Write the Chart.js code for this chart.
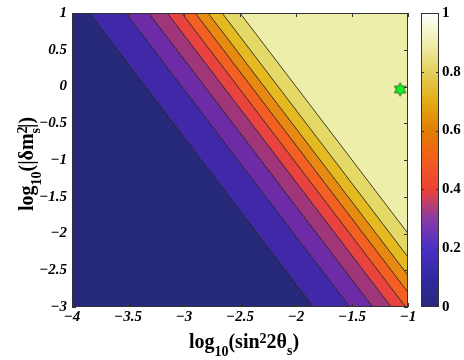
<!DOCTYPE html>
<html>
<head>
<meta charset="utf-8">
<script src="https://cdn.jsdelivr.net/npm/chart.js@4.4.1/dist/chart.umd.min.js"></script>
<style>
  html, body { margin: 0; padding: 0; background: #fff; }
</style>
</head>
<body>
<canvas id="contourChart" width="464" height="360"></canvas>
<script>
// contour levels and where each one sits: 2*log10(sin^2 2theta) + log10(|dm^2|) = offset
const levels = [0.1, 0.2, 0.3, 0.4, 0.5, 0.6, 0.7, 0.8, 0.9];
const contourOffsets = [-6.69, -6.04, -5.63, -5.30, -5.04, -4.80, -4.57, -4.32, -4.00];
const contourSlope = -2;
const bandColors = ['#27297a', '#4128a8', '#6e2ba6', '#a0357a', '#e8433f', '#f46022',
                    '#e88a12', '#e5b920', '#e4d866', '#eeeeab'];
const xRange = [-4, -1];
const yRange = [-3, 1];
const bestFit = [{ x: -1.07, y: -0.04 }];
const cbTicks = [0, 0.2, 0.4, 0.6, 0.8, 1];
const cbStops = [[0, '#26287a'], [0.1, '#3229a2'], [0.2, '#4a30c6'], [0.3, '#8a3aa6'],
                 [0.4, '#ec4236'], [0.5, '#f25d1e'], [0.6, '#e07e02'], [0.7, '#e3ad16'],
                 [0.8, '#e2cf5c'], [0.9, '#efefb0'], [1, '#ffffff']];

const serif = '"Liberation Serif", "Times New Roman", serif';

const contourLine = c => xRange.map(x => ({ x, y: c + contourSlope * x }));

const datasets = contourOffsets.map((c, i) => ({
    label: 'P = ' + levels[i],
    data: contourLine(c),
    borderColor: '#111',
    borderWidth: 0.8,
    backgroundColor: bandColors[i],
    fill: i === 0 ? 'start' : '-1',
    pointRadius: 0,
}));
datasets.push({
    label: 'top band',
    data: contourLine(contourOffsets[contourOffsets.length - 1]),
    borderWidth: 0,
    backgroundColor: bandColors[bandColors.length - 1],
    fill: 'end',
    pointRadius: 0,
});

// six pointed star for the best fit point
const starImg = document.createElement('canvas');
starImg.width = 16; starImg.height = 16;
(() => {
    const s = starImg.getContext('2d');
    const R = 6.6, r = R / Math.sqrt(3);
    s.beginPath();
    for (let k = 0; k < 12; k++) {
        const ang = -Math.PI / 2 + k * Math.PI / 6;
        const rad = k % 2 === 0 ? R : r;
        s.lineTo(8 + rad * Math.cos(ang), 8 + rad * Math.sin(ang));
    }
    s.closePath();
    s.fillStyle = '#11ee22';
    s.fill();
    s.strokeStyle = '#1d4d1d';
    s.lineWidth = 0.8;
    s.stroke();
})();

datasets.push({
    label: 'best fit',
    data: bestFit,
    showLine: false,
    fill: false,
    pointStyle: starImg,
    pointRadius: 8,
    order: -1,
});

const fmt = v => String(Math.round(v * 10) / 10).replace('-', '\u2212');

function drawRich(ctx, parts, cx, baseY) {
    let total = 0;
    parts.forEach(p => {
        ctx.font = 'bold ' + p[1] + 'px ' + serif;
        p.w = p[3] ? 0 : ctx.measureText(p[0]).width;
        total += p.w;
    });
    let x = cx - total / 2;
    ctx.textAlign = 'left';
    ctx.textBaseline = 'alphabetic';
    parts.forEach(p => {
        ctx.font = 'bold ' + p[1] + 'px ' + serif;
        ctx.fillText(p[0], x, baseY + p[2]);
        x += p.w;
    });
}

// fixed box sizes so the plot area lands where the original one is
const fixSize = (w, h) => s => {
    if (w) s.width = w;
    if (h) s.height = h;
    s.paddingTop = 0; s.paddingBottom = 0;
    s.paddingLeft = 0; s.paddingRight = 0;
};

const frame = {
    id: 'frame',
    afterDatasetsDraw(chart) {
        const { ctx, chartArea: a, scales } = chart;
        ctx.save();
        ctx.strokeStyle = '#333';
        ctx.lineWidth = 1;
        ctx.beginPath();
        scales.x.ticks.forEach(t => {
            const px = Math.round(scales.x.getPixelForValue(t.value)) + 0.5;
            ctx.moveTo(px, a.bottom); ctx.lineTo(px, a.bottom - 4);
            ctx.moveTo(px, a.top); ctx.lineTo(px, a.top + 4);
        });
        scales.y.ticks.forEach(t => {
            const py = Math.round(scales.y.getPixelForValue(t.value)) + 0.5;
            ctx.moveTo(a.left, py); ctx.lineTo(a.left + 4, py);
            ctx.moveTo(a.right, py); ctx.lineTo(a.right - 4, py);
        });
        ctx.stroke();
        ctx.strokeRect(a.left + 0.5, a.top + 0.5, a.right - a.left - 1, a.bottom - a.top - 1);
        ctx.restore();
    },
    afterDraw(chart) {
        const { ctx, scales } = chart;
        const cb = scales.cb;
        const x0 = cb.left + 13, w = 18;
        ctx.save();
        const g = ctx.createLinearGradient(0, cb.bottom, 0, cb.top);
        cbStops.forEach(([v, c]) => g.addColorStop(v, c));
        ctx.fillStyle = g;
        ctx.fillRect(x0, cb.top, w, cb.bottom - cb.top);
        ctx.strokeStyle = '#333';
        ctx.lineWidth = 1;
        ctx.beginPath();
        cbTicks.slice(1, -1).forEach(v => {
            const py = Math.round(cb.getPixelForValue(v)) + 0.5;
            ctx.moveTo(x0, py); ctx.lineTo(x0 + 3, py);
            ctx.moveTo(x0 + w, py); ctx.lineTo(x0 + w - 3, py);
        });
        ctx.stroke();
        ctx.strokeRect(x0 + 0.5, cb.top + 0.5, w - 1, cb.bottom - cb.top - 1);

        ctx.fillStyle = '#000';
        drawRich(ctx, [['log', 20, 0], ['10', 14, 8], ['(sin', 20, 0], ['2', 14, -5],
                       ['2\u03b8', 20, 0], ['s', 14, 7], [')', 20, 0]], 244, 348);
        ctx.translate(33, 164);
        ctx.rotate(-Math.PI / 2);
        drawRich(ctx, [['log', 20, 0], ['10', 14, 8], ['(|\u03b4m', 20, 0], ['2', 14, -6, true],
                       ['s', 14, 7], ['|)', 20, 0]], 0, 0);
        ctx.restore();
    }
};

const tickFont = { family: serif, size: 15, weight: 'bold', style: 'italic' };

new Chart(document.getElementById('contourChart'), {
    type: 'line',
    data: { datasets },
    options: {
        responsive: false,
        animation: false,
        devicePixelRatio: 1,
        layout: { padding: { top: 13, left: 0, right: 0, bottom: 0 } },
        plugins: {
            legend: { display: false },
            tooltip: { enabled: false },
        },
        scales: {
            x: {
                type: 'linear',
                min: xRange[0], max: xRange[1],
                afterFit: fixSize(0, 53),
                grid: { display: false, drawTicks: false, tickLength: 0 },
                border: { display: false },
                ticks: { stepSize: 0.5, padding: 1, color: '#000', font: tickFont, callback: fmt },
            },
            y: {
                type: 'linear',
                min: yRange[0], max: yRange[1],
                afterFit: fixSize(72, 0),
                grid: { display: false, drawTicks: false, tickLength: 0 },
                border: { display: false },
                ticks: { stepSize: 0.5, padding: 5, color: '#000', font: tickFont, callback: fmt },
            },
            cb: {
                type: 'linear',
                position: 'right',
                min: 0, max: 1,
                afterFit: fixSize(56, 0),
                grid: { display: false, drawTicks: false, tickLength: 0 },
                border: { display: false },
                ticks: { stepSize: 0.2, padding: 34, color: '#000',
                         font: { family: serif, size: 15, weight: 'bold' }, callback: fmt },
            }
        }
    },
    plugins: [frame]
});
</script>
</body>
</html>
